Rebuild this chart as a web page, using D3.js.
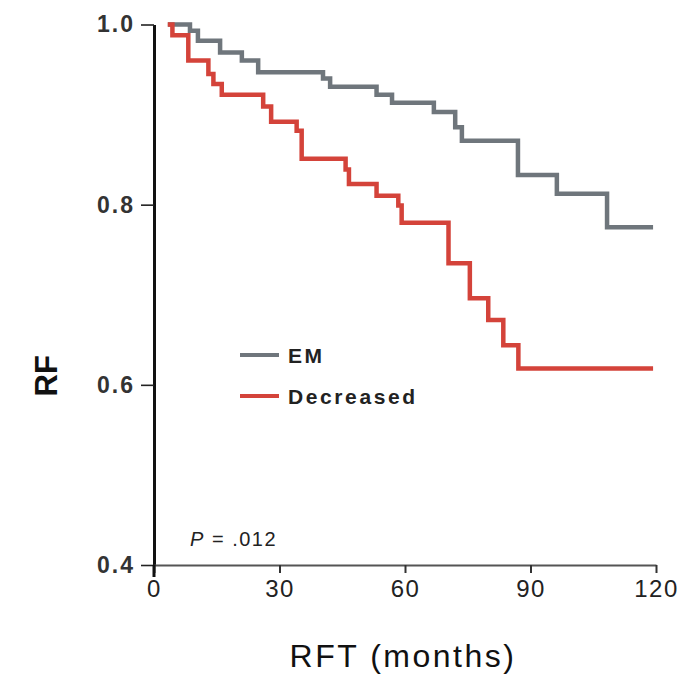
<!DOCTYPE html>
<html>
<head>
<meta charset="utf-8">
<script src="https://cdn.jsdelivr.net/npm/d3@7"></script>
<style>
  html, body { margin: 0; padding: 0; background: #fff; }
  svg { display: block; font-family: "Liberation Sans", Arial, sans-serif; }
</style>
</head>
<body>
<svg id="paper"></svg>
<script>
// step curve data (months, relapse-free fraction)
var emTimes = [3.3, 8.6, 10.5, 15.8, 21.0, 24.9, 40.4, 42.1, 53.2, 56.9, 66.9, 72.0, 73.6, 87.0, 96.3, 108.3, 119.3];
var emValues = [1.0, 0.993, 0.982, 0.969, 0.960, 0.947, 0.940, 0.931, 0.922, 0.913, 0.903, 0.886, 0.871, 0.833, 0.812, 0.775, 0.775];

var decTimes = [3.3, 4.4, 8.2, 13.0, 14.2, 16.2, 26.1, 28.0, 34.1, 35.3, 45.8, 46.6, 53.2, 58.4, 59.2, 70.4, 75.5, 79.9, 83.5, 87.1, 119.3];
var decValues = [1.0, 0.988, 0.960, 0.945, 0.934, 0.922, 0.909, 0.892, 0.882, 0.851, 0.839, 0.823, 0.810, 0.799, 0.780, 0.735, 0.696, 0.672, 0.644, 0.618, 0.618];

var xTicks = [0, 30, 60, 90, 120];
var yTicks = [0.4, 0.6, 0.8, 1.0];
var seriesNames = ["EM", "Decreased"];
var seriesColors = ["#6f767c", "#d4433a"];

(function () {
    var width = 697,
        height = 674;

    var svg = d3.select('#paper')
        .attr('width', width)
        .attr('height', height);

    var x = d3.scaleLinear().domain([0, 120]).range([154, 656]);
    var y = d3.scaleLinear().domain([0.4, 1.0]).range([565, 24.5]);

    // y axis
    var yAxis = svg.append("g")
        .attr("transform", "translate(154,0)")
        .call(d3.axisLeft(y).tickValues(yTicks).tickSize(13).tickSizeOuter(0)
            .tickFormat(d3.format(".1f")));
    yAxis.select(".domain").attr("stroke", "#111").attr("stroke-width", 3);
    yAxis.selectAll(".tick line").attr("stroke", "#222").attr("stroke-width", 1.6);
    yAxis.selectAll(".tick text")
        .attr("x", -19)
        .attr("fill", "#333")
        .style("font-size", "23px")
        .style("font-weight", "bold")
        .style("letter-spacing", "2px");

    // x axis
    var xAxis = svg.append("g")
        .attr("transform", "translate(0,565)")
        .call(d3.axisBottom(x).tickValues(xTicks).tickSize(8).tickSizeOuter(0));
    xAxis.select(".domain").attr("stroke", "#555").attr("stroke-width", 2.2);
    xAxis.selectAll(".tick line").attr("stroke", "#333").attr("stroke-width", 2);
    xAxis.selectAll(".tick text")
        .attr("y", 15)
        .attr("fill", "#222")
        .style("font-size", "24px")
        .style("letter-spacing", "1.5px");
    // the y axis line runs a little below the x axis at 0
    svg.append("line")
        .attr("x1", x(0)).attr("x2", x(0))
        .attr("y1", 565).attr("y2", 577)
        .attr("stroke", "#111").attr("stroke-width", 3);

    // axis titles
    svg.append("text")
        .attr("transform", "translate(57," + y(0.61) + ") rotate(-90)")
        .attr("text-anchor", "middle")
        .attr("fill", "#111")
        .style("font-size", "31px")
        .style("font-weight", "bold")
        .text("RF");

    svg.append("text")
        .attr("x", 403)
        .attr("y", 667)
        .attr("text-anchor", "middle")
        .attr("fill", "#111")
        .style("font-size", "32px")
        .style("letter-spacing", "2.5px")
        .text("RFT (months)");

    // curves
    var line = d3.line()
        .curve(d3.curveStepAfter)
        .x(function (d) { return x(d[0]); })
        .y(function (d) { return y(d[1]); });

    var curves = [d3.zip(emTimes, emValues), d3.zip(decTimes, decValues)];

    svg.selectAll("path.curve")
        .data(curves)
        .enter().append("path")
        .attr("class", "curve")
        .attr("d", line)
        .attr("fill", "none")
        .attr("stroke", function (d, i) { return seriesColors[i]; })
        .attr("stroke-width", 4.5);

    // legend
    var legend = svg.selectAll("g.legend")
        .data(seriesNames)
        .enter().append("g")
        .attr("class", "legend")
        .attr("transform", function (d, i) { return "translate(240," + (355 + i * 41) + ")"; });
    legend.append("line")
        .attr("x1", 0).attr("x2", 39)
        .attr("stroke", function (d, i) { return seriesColors[i]; })
        .attr("stroke-width", 4);
    legend.append("text")
        .attr("x", 48)
        .attr("y", 8)
        .attr("fill", "#222")
        .style("font-size", "21px")
        .style("font-weight", "bold")
        .style("letter-spacing", "2.6px")
        .text(function (d) { return d; });

    // p value
    var p = svg.append("text")
        .attr("x", 190)
        .attr("y", 546)
        .attr("fill", "#222")
        .style("font-size", "20px")
        .style("letter-spacing", "1.5px");
    p.append("tspan").style("font-style", "italic").text("P");
    p.append("tspan").text(" =  .012");
})();
</script>
</body>
</html>
